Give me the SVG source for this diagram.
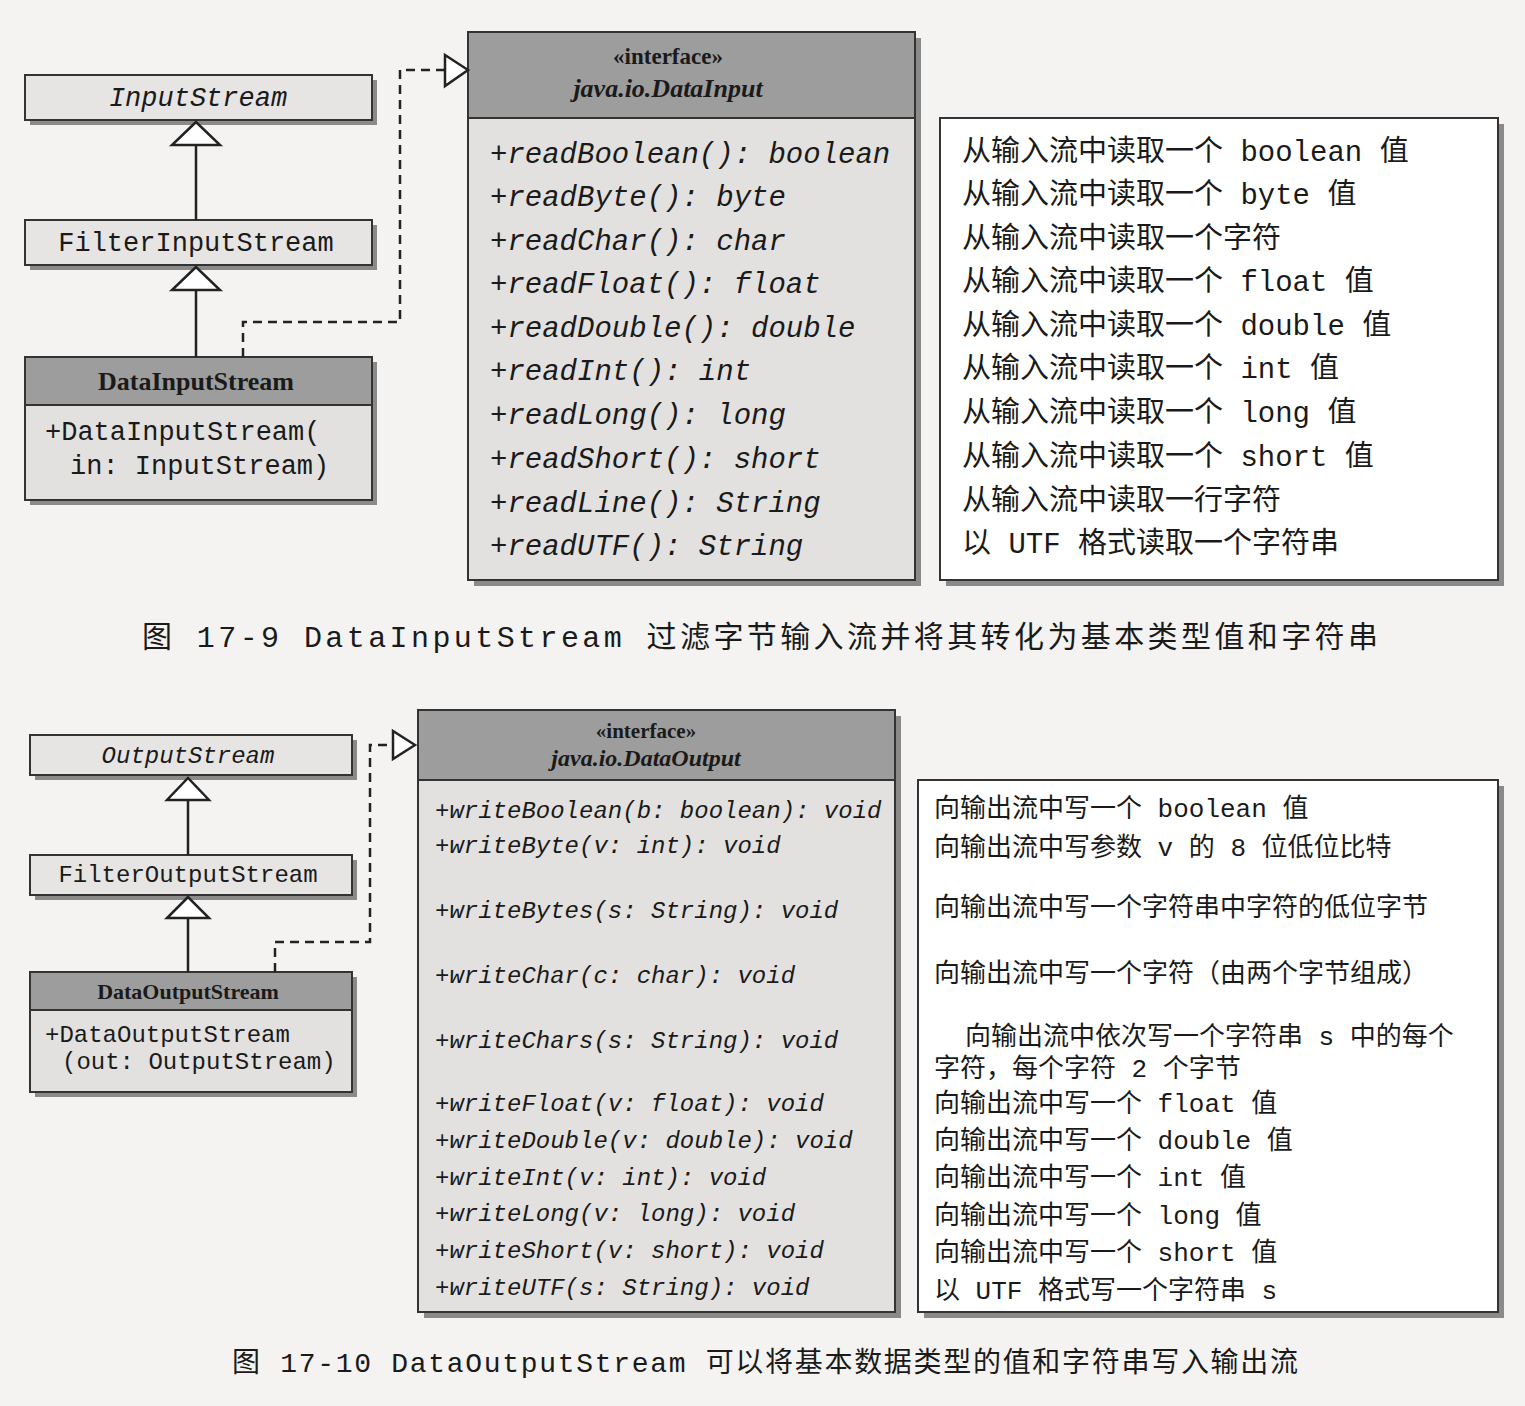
<svg xmlns="http://www.w3.org/2000/svg" width="1525" height="1406" viewBox="0 0 1525 1406">
<style>
.bg{fill:#f4f3f1}
.cls{fill:#e6e5e3;stroke:#333;stroke-width:2}
.hdr{fill:#9d9d9d;stroke:#333;stroke-width:2}
.body{fill:#e2e1df;stroke:#333;stroke-width:2}
.note{fill:#fff;stroke:#333;stroke-width:2}
.sh{fill:#8a8a8a}
.mono{font-family:"Liberation Mono","DejaVu Sans Mono",monospace;fill:#1a1a1a}
.it{font-style:italic}
.ser{font-family:"Liberation Serif",serif;fill:#1a1a1a;font-weight:bold}
.cjk{font-family:"Liberation Mono","Noto Sans CJK SC",sans-serif;fill:#1a1a1a}
.line{stroke:#222;stroke-width:2.5;fill:none}
.dash{stroke:#222;stroke-width:2.5;fill:none;stroke-dasharray:9 6}
.tri{fill:#fff;stroke:#222;stroke-width:2.5}
</style>
<rect class="bg" width="1525" height="1406"/>
<!-- Figure 17-9 -->
<g id="InputStream"><rect class="sh" x="30" y="80" width="347" height="45"/><rect class="cls" x="25" y="75" width="347" height="45"/><text class="mono it" x="198" y="106" font-size="27" text-anchor="middle">InputStream</text></g>
<g id="FilterInputStream"><rect class="sh" x="30" y="225" width="347" height="45"/><rect class="cls" x="25" y="220" width="347" height="45"/><text class="mono" x="196" y="251" font-size="27" text-anchor="middle">FilterInputStream</text></g>
<g id="DataInputStream"><rect class="sh" x="30" y="362" width="347" height="143"/><rect class="body" x="25" y="357" width="347" height="143"/><rect class="hdr" x="25" y="357" width="347" height="48"/><text class="ser" x="196" y="390" font-size="26" text-anchor="middle">DataInputStream</text><text class="mono" x="45" y="440" font-size="27">+DataInputStream(</text><text class="mono" x="70" y="474" font-size="27">in: InputStream)</text></g>
<g id="DataInput"><rect class="sh" x="474" y="38" width="447" height="548"/><rect class="body" x="468" y="32" width="447" height="548"/><rect class="hdr" x="468" y="32" width="447" height="86"/><text class="ser" x="668" y="64" font-size="23" text-anchor="middle">«interface»</text><text class="ser it" x="668" y="97" font-size="26" text-anchor="middle">java.io.DataInput</text>
<g class="mono it" font-size="29"><text x="490" y="163">+readBoolean(): boolean</text><text x="490" y="206">+readByte(): byte</text><text x="490" y="250">+readChar(): char</text><text x="490" y="293">+readFloat(): float</text><text x="490" y="337">+readDouble(): double</text><text x="490" y="380">+readInt(): int</text><text x="490" y="424">+readLong(): long</text><text x="490" y="468">+readShort(): short</text><text x="490" y="512">+readLine(): String</text><text x="490" y="555">+readUTF(): String</text></g></g>
<g id="DataInputNotes"><rect class="sh" x="946" y="124" width="558" height="462"/><rect class="note" x="940" y="118" width="558" height="462"/>
<g class="cjk" font-size="29"><text x="962" y="161">从输入流中读取一个 boolean 值</text><text x="962" y="204">从输入流中读取一个 byte 值</text><text x="962" y="248">从输入流中读取一个字符</text><text x="962" y="291">从输入流中读取一个 float 值</text><text x="962" y="335">从输入流中读取一个 double 值</text><text x="962" y="378">从输入流中读取一个 int 值</text><text x="962" y="422">从输入流中读取一个 long 值</text><text x="962" y="466">从输入流中读取一个 short 值</text><text x="962" y="510">从输入流中读取一行字符</text><text x="962" y="553">以 UTF 格式读取一个字符串</text></g></g>
<g id="connectors1">
<line class="line" x1="196" y1="145" x2="196" y2="220"/><polygon class="tri" points="196,122 172,145 220,145"/>
<line class="line" x1="196" y1="290" x2="196" y2="357"/><polygon class="tri" points="196,267 172,290 220,290"/>
<polyline class="dash" points="243,357 243,322 400,322 400,70 445,70"/><polygon class="tri" points="468,70 445,55 445,86"/>
</g>
<text class="cjk" x="142" y="647" font-size="30" textLength="1236" lengthAdjust="spacing">图 17-9  DataInputStream 过滤字节输入流并将其转化为基本类型值和字符串</text>
<!-- Figure 17-10 -->
<g id="OutputStream"><rect class="sh" x="35" y="740" width="322" height="40"/><rect class="cls" x="30" y="735" width="322" height="40"/><text class="mono it" x="188" y="763" font-size="24" text-anchor="middle">OutputStream</text></g>
<g id="FilterOutputStream"><rect class="sh" x="35" y="860" width="322" height="40"/><rect class="cls" x="30" y="855" width="322" height="40"/><text class="mono" x="188" y="882" font-size="24" text-anchor="middle">FilterOutputStream</text></g>
<g id="DataOutputStream"><rect class="sh" x="35" y="977" width="322" height="120"/><rect class="body" x="30" y="972" width="322" height="120"/><rect class="hdr" x="30" y="972" width="322" height="38"/><text class="ser" x="188" y="999" font-size="22" text-anchor="middle">DataOutputStream</text><text class="mono" x="45" y="1042" font-size="24">+DataOutputStream</text><text class="mono" x="62" y="1069" font-size="24">(out: OutputStream)</text></g>
<g id="DataOutput"><rect class="sh" x="424" y="716" width="477" height="602"/><rect class="body" x="418" y="710" width="477" height="602"/><rect class="hdr" x="418" y="710" width="477" height="70"/><text class="ser" x="646" y="738" font-size="21" text-anchor="middle">«interface»</text><text class="ser it" x="646" y="766" font-size="24" text-anchor="middle">java.io.DataOutput</text>
<g class="mono it" font-size="24"><text x="435" y="818">+writeBoolean(b: boolean): void</text><text x="435" y="853">+writeByte(v: int): void</text><text x="435" y="918">+writeBytes(s: String): void</text><text x="435" y="983">+writeChar(c: char): void</text><text x="435" y="1048">+writeChars(s: String): void</text><text x="435" y="1111">+writeFloat(v: float): void</text><text x="435" y="1148">+writeDouble(v: double): void</text><text x="435" y="1185">+writeInt(v: int): void</text><text x="435" y="1221">+writeLong(v: long): void</text><text x="435" y="1258">+writeShort(v: short): void</text><text x="435" y="1295">+writeUTF(s: String): void</text></g></g>
<g id="DataOutputNotes"><rect class="sh" x="924" y="786" width="580" height="532"/><rect class="note" x="918" y="780" width="580" height="532"/>
<g class="cjk" font-size="26"><text x="934" y="817">向输出流中写一个 boolean 值</text><text x="934" y="856">向输出流中写参数 v 的 8 位低位比特</text><text x="934" y="916">向输出流中写一个字符串中字符的低位字节</text><text x="934" y="982">向输出流中写一个字符（由两个字节组成）</text><text x="965" y="1045">向输出流中依次写一个字符串 s 中的每个</text><text x="934" y="1077">字符，每个字符 2 个字节</text><text x="934" y="1112">向输出流中写一个 float 值</text><text x="934" y="1149">向输出流中写一个 double 值</text><text x="934" y="1186">向输出流中写一个 int 值</text><text x="934" y="1224">向输出流中写一个 long 值</text><text x="934" y="1261">向输出流中写一个 short 值</text><text x="934" y="1299">以 UTF 格式写一个字符串 s</text></g></g>
<g id="connectors2">
<line class="line" x1="188" y1="800" x2="188" y2="855"/><polygon class="tri" points="188,778 167,800 209,800"/>
<line class="line" x1="188" y1="918" x2="188" y2="972"/><polygon class="tri" points="188,897 167,918 209,918"/>
<polyline class="dash" points="275,972 275,942 370,942 370,745 393,745"/><polygon class="tri" points="415,745 393,731 393,759"/>
</g>
<text class="cjk" x="232" y="1372" font-size="28" textLength="1066" lengthAdjust="spacing">图 17-10  DataOutputStream 可以将基本数据类型的值和字符串写入输出流</text>
</svg>
